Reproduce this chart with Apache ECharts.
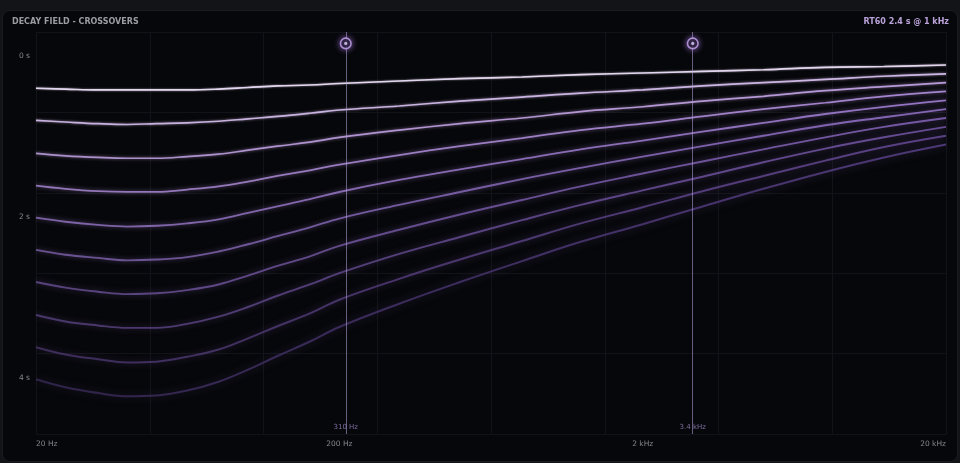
<!DOCTYPE html>
<html>
<head>
<meta charset="utf-8">
<script src="https://cdn.jsdelivr.net/npm/echarts@6/dist/echarts.min.js"></script>
<style>
  html, body { margin: 0; padding: 0; background: #131417; width: 960px; height: 463px; overflow: hidden; }
  #card { position: absolute; left: 2px; top: 10px; width: 954px; height: 450px; background: #06070a; border: 1px solid #1a1b20; border-radius: 8px; }
  #chart { position: absolute; left: 0; top: 0; width: 960px; height: 463px; }
</style>
</head>
<body>
<div id="card"></div>
<div id="chart"></div>
<script>
// ---- data ----
const freqs = [20, 25, 32, 40, 50, 63, 80, 100, 125, 160, 200, 315, 500, 800, 1250, 2000, 3150, 5000, 8000, 12500, 20000];
const decay1  = [0.40,0.41,0.42,0.42,0.42,0.42,0.41,0.39,0.37,0.36,0.34,0.31,0.28,0.26,0.23,0.21,0.19,0.17,0.14,0.13,0.11];
const decay2  = [0.80,0.82,0.84,0.85,0.84,0.83,0.81,0.78,0.75,0.71,0.67,0.62,0.56,0.51,0.46,0.42,0.37,0.33,0.29,0.25,0.22];
const decay3  = [1.21,1.24,1.26,1.27,1.27,1.25,1.22,1.17,1.12,1.07,1.01,0.92,0.84,0.77,0.69,0.63,0.56,0.50,0.43,0.38,0.33];
const decay4  = [1.61,1.65,1.68,1.69,1.69,1.66,1.62,1.56,1.49,1.42,1.35,1.23,1.12,1.02,0.92,0.84,0.75,0.66,0.58,0.50,0.44];
const decay5  = [2.01,2.06,2.10,2.12,2.11,2.08,2.03,1.95,1.87,1.78,1.69,1.54,1.41,1.28,1.16,1.05,0.94,0.83,0.72,0.63,0.55];
const decay6  = [2.41,2.47,2.51,2.54,2.53,2.50,2.43,2.34,2.24,2.13,2.02,1.85,1.69,1.53,1.39,1.25,1.12,0.99,0.86,0.76,0.66];
const decay7  = [2.81,2.88,2.93,2.96,2.95,2.91,2.84,2.73,2.61,2.49,2.36,2.16,1.97,1.79,1.62,1.46,1.31,1.16,1.01,0.88,0.77];
const decay8  = [3.22,3.30,3.35,3.38,3.38,3.33,3.24,3.12,2.98,2.84,2.70,2.46,2.25,2.04,1.85,1.67,1.50,1.32,1.15,1.01,0.88];
const decay9  = [3.62,3.71,3.77,3.81,3.80,3.74,3.65,3.51,3.36,3.20,3.03,2.77,2.53,2.30,2.08,1.88,1.68,1.49,1.30,1.13,0.99];
const decay10 = [4.02,4.12,4.19,4.23,4.22,4.16,4.05,3.90,3.73,3.55,3.37,3.08,2.81,2.55,2.31,2.09,1.87,1.65,1.44,1.26,1.10];
const xTickValues = [20, 200, 2000, 20000];
const yTickValues = [0, 2, 4];
const crossoverFreqs = [210, 2925];
const crossoverLabels = ['310 Hz', '3.4 kHz'];
const titleText = 'DECAY FIELD - CROSSOVERS';
const rtText = 'RT60 2.4 s @ 1 kHz';

// ---- styling ----
const curves = [decay1, decay2, decay3, decay4, decay5, decay6, decay7, decay8, decay9, decay10];
const curveColors = ['#e2d6ee', '#cdb6e4', '#b89ad8', '#a585ce', '#9474c2', '#8466b4', '#7558a4', '#674c94', '#5a4184', '#4d3876'];

function hexA(hex, a) {
  const r = parseInt(hex.slice(1, 3), 16), g = parseInt(hex.slice(3, 5), 16), b = parseInt(hex.slice(5, 7), 16);
  return 'rgba(' + r + ',' + g + ',' + b + ',' + a + ')';
}

const series = curves.map((vals, i) => {
  const c = curveColors[i];
  const leftA = 1 - i * 0.05;
  return {
    type: 'line',
    xAxisIndex: 0, yAxisIndex: 0,
    data: freqs.map((f, j) => [f, vals[j]]),
    smooth: 0.4,
    showSymbol: false,
    silent: true,
    z: 3,
    lineStyle: {
      width: 1.6 + i * 0.05,
      color: { type: 'linear', x: 0, y: 0, x2: 1, y2: 0, colorStops: [
        { offset: 0, color: hexA(c, leftA) },
        { offset: 1, color: hexA(c, 1) }
      ] },
      shadowBlur: 2 + i * 0.7,
      shadowColor: hexA(c, 0.7)
    }
  };
});

// crossover lines
series.push({
  type: 'line', data: [], xAxisIndex: 0, yAxisIndex: 0, silent: true,
  markLine: {
    silent: true, symbol: 'none', animation: false,
    label: { show: false },
    lineStyle: { color: 'rgba(185,165,225,0.55)', width: 1, type: 'solid' },
    data: crossoverFreqs.map(f => ({ xAxis: f }))
  },
  z: 4
});
// crossover handles
series.push({
  type: 'scatter', xAxisIndex: 0, yAxisIndex: 0, silent: true, z: 6,
  data: crossoverFreqs.map(f => [f, -0.158]),
  symbol: 'circle', symbolSize: 10.5,
  itemStyle: { color: '#0a0910', borderColor: '#caa8f2', borderWidth: 1.6, shadowBlur: 6, shadowColor: 'rgba(190,140,255,0.8)' }
});
series.push({
  type: 'scatter', xAxisIndex: 0, yAxisIndex: 0, silent: true, z: 7,
  data: crossoverFreqs.map(f => [f, -0.158]),
  symbol: 'circle', symbolSize: 3.2,
  itemStyle: { color: '#e6d2ff' }
});
// crossover labels
series.push({
  type: 'scatter', xAxisIndex: 0, yAxisIndex: 0, silent: true, z: 8,
  data: crossoverFreqs.map((f, i) => ({ value: [f, 4.62], name: crossoverLabels[i] })),
  symbolSize: 0,
  label: { show: true, position: 'inside', formatter: p => p.name, color: '#9c86c4', fontSize: 7, fontFamily: 'DejaVu Sans' }
});

const fmtHz = v => { const r = Math.round(v); return r >= 1000 ? (r / 1000) + ' kHz' : r + ' Hz'; };

const option = {
  backgroundColor: 'transparent',
  animation: false,
  title: [
    { text: titleText, left: 12, top: 18, padding: 0, textStyle: { color: '#9c9da3', fontSize: 8, fontWeight: 'bold', fontFamily: 'DejaVu Sans' } },
    { text: rtText, right: 11, top: 18, padding: 0, textStyle: { color: '#b9a2d9', fontSize: 8, fontWeight: 'bold', fontFamily: 'DejaVu Sans' } }
  ],
  grid: { left: 36, right: 14, top: 32, bottom: 29, containLabel: false },
  xAxis: [
    {
      type: 'log', logBase: 10, min: 20, max: 20000,
      axisLine: { show: false }, axisTick: { show: false }, splitLine: { show: false },
      axisLabel: {
        customValues: xTickValues, formatter: fmtHz, color: '#85868c', fontSize: 7.5, fontFamily: 'DejaVu Sans',
        margin: 6, alignMinLabel: 'left', alignMaxLabel: 'right', showMinLabel: true, showMaxLabel: true
      }
    },
    {
      type: 'value', min: 0, max: 8, interval: 1, show: true, position: 'bottom',
      axisLine: { show: false }, axisTick: { show: false }, axisLabel: { show: false },
      splitLine: { show: true, lineStyle: { color: '#121318', width: 1 } }
    }
  ],
  yAxis: [
    {
      type: 'value', inverse: true, min: -0.3, max: 4.7,
      axisLine: { show: false }, axisTick: { show: false }, splitLine: { show: false },
      axisLabel: { customValues: yTickValues, formatter: v => Math.round(v) + ' s', color: '#85868c', fontSize: 7.5, fontFamily: 'DejaVu Sans', margin: 6 }
    },
    {
      type: 'value', inverse: true, min: 0, max: 5, interval: 1, position: 'left',
      axisLine: { show: false }, axisTick: { show: false }, axisLabel: { show: false },
      splitLine: { show: true, lineStyle: { color: '#121318', width: 1 } }
    }
  ],
  series: series
};

const chart = echarts.init(document.getElementById('chart'), null, { renderer: 'canvas' });
chart.setOption(option);
</script>
</body>
</html>
